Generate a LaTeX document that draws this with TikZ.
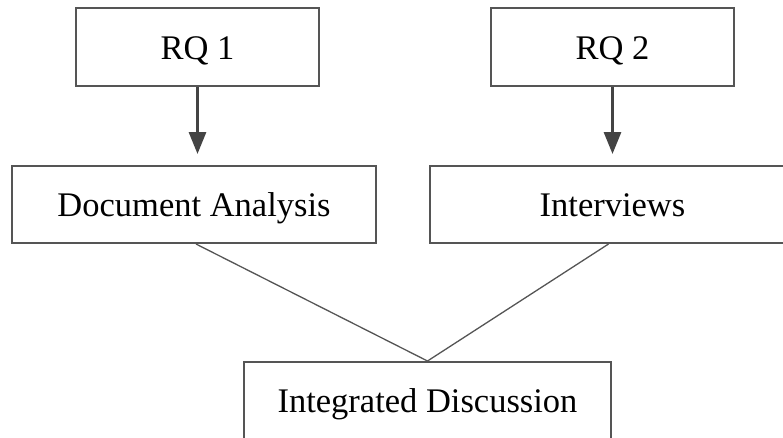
\documentclass[tikz,border=0pt]{standalone}
\usepackage{fontspec}
\setmainfont{Liberation Serif}
\usetikzlibrary{arrows.meta}
\definecolor{boxline}{HTML}{555555}
\definecolor{arrowc}{HTML}{444444}
\begin{document}
\begin{tikzpicture}[x=1pt,y=-1pt,
  box/.style={draw=boxline,line width=2pt,fill=white,inner sep=0pt,
    font=\fontsize{34.5}{40}\selectfont,text=black,text height=24pt,text depth=0pt},
  flow/.style={draw=arrowc,line width=3pt,-{Triangle[width=17pt,length=22pt]},shorten >=11pt},
  joinline/.style={draw=boxline,line width=1.3pt}]
\useasboundingbox (0,0) rectangle (783,437);
\node[box,minimum width=243pt,minimum height=78pt] (rq1) at (197.5,47) {RQ 1};
\node[box,minimum width=243pt,minimum height=78pt] (rq2) at (612.5,47) {RQ 2};
\node[box,minimum width=364pt,minimum height=77pt] (da) at (194,204.5) {Document Analysis};
\node[box,minimum width=365pt,minimum height=77pt] (iv) at (612.5,204.5) {Interviews};
\node[box,minimum width=367pt,minimum height=90pt,text depth=14pt] (id) at (427.5,407) {Integrated Discussion};
\draw[flow] (rq1.south) -- (rq1.south |- da.north);
\draw[flow] (rq2.south) -- (rq2.south |- iv.north);
\draw[joinline] ([xshift=2pt]da.south) -- (id.north);
\draw[joinline] ([xshift=-4pt]iv.south) -- (id.north);
\end{tikzpicture}
\end{document}
